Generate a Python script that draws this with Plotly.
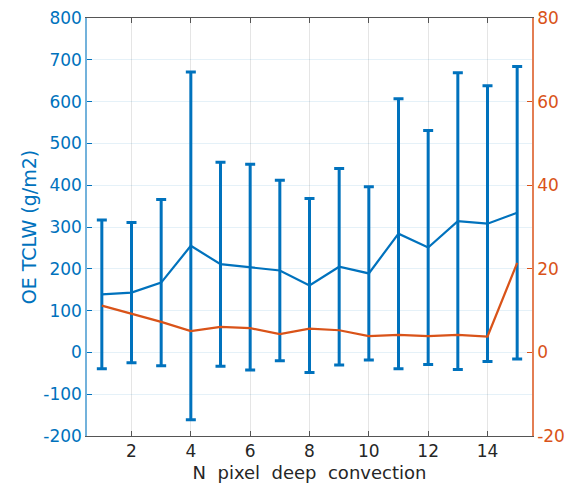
import plotly.graph_objects as go

n_pixels = list(range(1, 16))
tclw_mean = [139, 143, 167, 255, 211, 204, 196, 160, 205, 189, 284, 251, 314, 308, 334]
tclw_err = [178, 168, 199, 416, 244, 246, 216, 208, 235, 207, 323, 280, 355, 330, 350]
right_series = [11.2, 9.2, 7.3, 5.1, 6.1, 5.8, 4.4, 5.7, 5.3, 3.9, 4.2, 3.9, 4.2, 3.8, 21.4]

x_ticks = [2, 4, 6, 8, 10, 12, 14]
left_ticks = [-200, -100, 0, 100, 200, 300, 400, 500, 600, 700, 800]
left_labels = ["-200", "-100", "0", "100", "200", "300", "400", "500", "600", "700", "800"]
right_ticks = [-20, 0, 20, 40, 60, 80]
right_labels = ["-20", "0", "20", "40", "60", "80"]

blue = "#0072BD"
orange = "#D95319"
font = "DejaVu Sans"

fig = go.Figure()
fig.add_trace(go.Scatter(
    x=n_pixels, y=tclw_mean, mode="lines",
    line=dict(color=blue, width=2.2),
    error_y=dict(type="data", array=tclw_err, visible=True, color=blue, thickness=3, width=5),
    showlegend=False, yaxis="y"))
fig.add_trace(go.Scatter(
    x=n_pixels, y=right_series, mode="lines",
    line=dict(color=orange, width=2.2),
    showlegend=False, yaxis="y2"))

fig.update_layout(
    width=565, height=485,
    margin=dict(l=87, r=33, t=18, b=49),
    paper_bgcolor="white", plot_bgcolor="white",
    font=dict(family=font, size=17, color="#262626"),
    xaxis=dict(
        range=[0.5, 15.5], tickvals=x_ticks,
        ticks="inside", ticklen=5, tickcolor="#555555",
        showline=True, linecolor="#555555", linewidth=1, mirror="ticks",
        showgrid=True, gridcolor="rgba(38,38,38,0.12)", zeroline=False,
        tickfont=dict(size=17, color="#262626"), automargin=False,
        title=dict(text="N  pixel  deep  convection", font=dict(size=18, color="#262626"), standoff=5),
    ),
    yaxis=dict(
        range=[-200, 800], tickvals=left_ticks, ticktext=left_labels,
        ticks="inside", ticklen=5, tickcolor=blue,
        showline=True, linecolor="rgba(0,114,189,0.55)", linewidth=1.5,
        showgrid=True, gridcolor="rgba(0,114,189,0.10)", zeroline=False,
        tickfont=dict(size=17, color=blue), automargin=False,
        title=dict(text="OE TCLW (g/m2)", font=dict(size=19, color=blue), standoff=2),
    ),
    yaxis2=dict(
        range=[-20, 80], tickvals=right_ticks, ticktext=right_labels,
        overlaying="y", side="right",
        ticks="inside", ticklen=5, tickcolor=orange,
        showline=True, linecolor="rgba(217,83,25,0.75)", linewidth=1.5,
        showgrid=False, zeroline=False, automargin=False,
        tickfont=dict(size=17, color=orange),
    ),
)

fig.write_html("out.html")
